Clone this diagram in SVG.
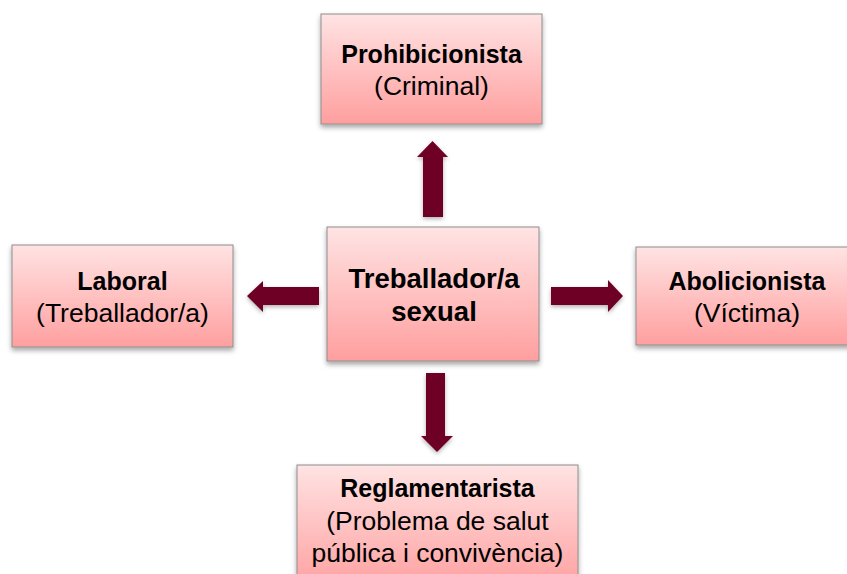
<svg xmlns="http://www.w3.org/2000/svg" width="847" height="574" viewBox="0 0 847 574">
  <defs>
    <linearGradient id="pink" x1="0" y1="0" x2="0" y2="1">
      <stop offset="0" stop-color="#FFE3E3"/>
      <stop offset="1" stop-color="#FF9F9F"/>
    </linearGradient>
    <filter id="shadow" x="-10%" y="-10%" width="120%" height="130%">
      <feDropShadow dx="0" dy="3" stdDeviation="2.5" flood-color="#000" flood-opacity="0.35"/>
    </filter>
    <filter id="ashadow" x="-20%" y="-20%" width="140%" height="140%">
      <feDropShadow dx="0" dy="2" stdDeviation="2" flood-color="#000" flood-opacity="0.3"/>
    </filter>
  </defs>
  <style>
    .box { fill: url(#pink); stroke: #8E8E8E; stroke-width: 1; filter: url(#shadow); }
    .arrow { fill: #6E0028; filter: url(#ashadow); }
    text { font-family: "Liberation Sans", Arial, sans-serif; fill: #000; text-anchor: middle; }
    .b { font-weight: bold; font-size: 25px; }
    .r { font-size: 26.5px; }
    .c { font-weight: bold; font-size: 27.5px; }
  </style>
  <rect width="847" height="574" fill="#FFFFFF"/>

  <g id="connectors">
    <polygon class="arrow" points="423,217 443,217 443,157 448,157 432.5,141 417,157 423,157"/>
    <polygon class="arrow" points="426,373 445,373 445,436 453,436 437,452 421,436 426,436"/>
    <polygon class="arrow" points="319,287 319,305 263,305 263,312 247,296 263,281 263,287"/>
    <polygon class="arrow" points="551,287 551,305 608,305 608,312 623,296 608,280 608,287"/>
  </g>

  <g id="node-center">
    <rect class="box" x="327" y="227" width="212" height="134"/>
    <text class="c" x="434" y="288">Treballador/a</text>
    <text class="c" x="434" y="321">sexual</text>
  </g>

  <g id="node-prohibicionista">
    <rect class="box" x="321" y="14" width="221" height="110"/>
    <text class="b" x="431.5" y="63">Prohibicionista</text>
    <text class="r" x="431.5" y="95">(Criminal)</text>
  </g>

  <g id="node-laboral">
    <rect class="box" x="12" y="245" width="221" height="102"/>
    <text class="b" x="122.5" y="290">Laboral</text>
    <text class="r" x="122.5" y="322">(Treballador/a)</text>
  </g>

  <g id="node-abolicionista">
    <rect class="box" x="636" y="247" width="221" height="98"/>
    <text class="b" x="747" y="290">Abolicionista</text>
    <text class="r" x="747" y="322">(Víctima)</text>
  </g>

  <g id="node-reglamentarista">
    <rect class="box" x="297" y="465" width="281" height="125"/>
    <text class="b" x="437.5" y="497">Reglamentarista</text>
    <text class="r" x="437.5" y="530">(Problema de salut</text>
    <text class="r" x="437.5" y="562">pública i convivència)</text>
  </g>
</svg>
